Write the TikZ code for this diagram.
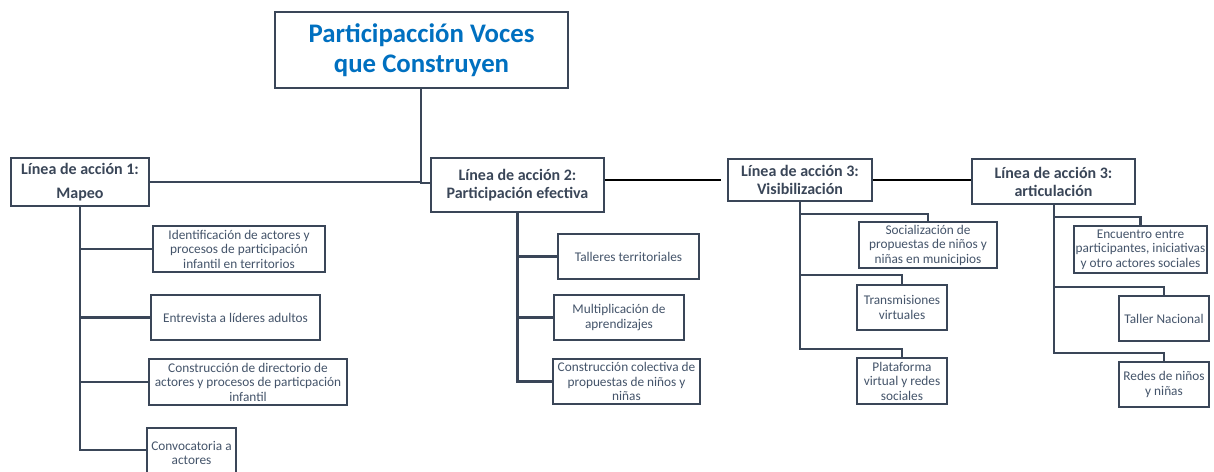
\documentclass[tikz,border=0pt]{standalone}
\usepackage{fontspec}
\setmainfont{Carlito}
\definecolor{edge}{HTML}{3A4658}
\definecolor{slate}{HTML}{44546A}
\definecolor{titleblue}{HTML}{0070C0}
\begin{document}
\begin{tikzpicture}[x=1pt,y=-1pt,
  box/.style={draw=edge, line width=2.8pt, fill=white, align=center, inner sep=0pt, text=slate},
  titlebox/.style={box, text=titleblue, font=\fontsize{26.8}{30}\selectfont\bfseries},
  lvl/.style={box, text=edge, font=\fontsize{16}{18}\selectfont\bfseries},
  leaf/.style={box, line width=2.6pt, font=\fontsize{13.3}{14.5}\selectfont},
  conn/.style={draw=edge, line width=2.8pt},
  thinconn/.style={draw=edge, line width=2.2pt},
  blk/.style={draw=black, line width=2.2pt}]
\useasboundingbox (0,0) rectangle (1214,471);

% title
\node[titlebox, minimum width=293, minimum height=76] (title) at (421.5,50) {Participacción Voces\\que Construyen};

% action lines
\node[lvl, minimum width=138, minimum height=48] (L1) at (80,182) {Línea de acción 1:\\[6pt]Mapeo};
\node[lvl, minimum width=173, minimum height=54] (L2) at (517.5,185) {Línea de acción 2:\\Participación efectiva};
\node[lvl, minimum width=144, minimum height=42] (L3) at (800,180) {Línea de acción 3:\\Visibilización};
\node[lvl, minimum width=163, minimum height=45] (L4) at (1053.5,181.5) {Línea de acción 3:\\articulación};

% line 1 children
\node[leaf, minimum width=172, minimum height=46] (a1) at (239,249) {Identificación de actores y\\procesos de participación\\infantil en territorios};
\node[leaf, minimum width=169, minimum height=45] (a2) at (235.5,317.5) {Entrevista a líderes adultos};
\node[leaf, minimum width=198, minimum height=46] (a3) at (248,382) {Construcción de directorio de\\actores y procesos de particpación\\infantil};
\node[leaf, minimum width=89, minimum height=50] (a4) at (191.5,453) {Convocatoria a\\actores};

% line 2 children
\node[leaf, minimum width=141, minimum height=45] (b1) at (628.5,256.5) {Talleres territoriales};
\node[leaf, minimum width=130, minimum height=45] (b2) at (619,317.5) {Multiplicación de\\aprendizajes};
\node[leaf, minimum width=147, minimum height=45] (b3) at (626.5,381.5) {Construcción colectiva de\\propuestas de niños y\\niñas};

% line 3 children
\node[leaf, minimum width=138, minimum height=46] (c1) at (928,245) {Socialización de\\propuestas de niños y\\niñas en municipios};
\node[leaf, minimum width=90, minimum height=45] (c2) at (902,307.5) {Transmisiones\\virtuales};
\node[leaf, minimum width=90, minimum height=46] (c3) at (902,381) {Plataforma\\virtual y redes\\sociales};

% line 4 children
\node[leaf, minimum width=133, minimum height=47] (d1) at (1140.5,249.5) {Encuentro entre\\participantes, iniciativas\\y otro actores sociales};
\node[leaf, minimum width=90, minimum height=45] (d2) at (1164,318.5) {Taller Nacional};
\node[leaf, minimum width=90, minimum height=45] (d3) at (1164,384.5) {Redes de niños\\y niñas};

% title to action lines
\coordinate (J) at (421,183);
\draw[conn] (title.south -| J) -- (J) -- (J -| L2.west);
\draw[thinconn] (L1.east) -- (L1.east -| J);
\draw[blk] (L2.east |- L3.west) -- ([xshift=-6pt]L3.west);
\draw[blk] (L3.east) -- (L3.east -| L4.west);

% line 1 tree
\coordinate (t1) at (80,450);
\draw[conn] (L1.south) -- (t1) -- (t1 -| a4.west);
\draw[conn] (L1.south |- a1.west) -- (a1.west);
\draw[conn] (L1.south |- a2.west) -- (a2.west);
\draw[conn] (L1.south |- a3.west) -- (a3.west);

% line 2 tree
\draw[conn] (L2.south) -- (L2.south |- b3.west) -- (b3.west);
\draw[conn] (L2.south |- b1.west) -- (b1.west);
\draw[conn] (L2.south |- b2.west) -- (b2.west);

% line 3 tree
\coordinate (v1) at (800,214);
\coordinate (v2) at (800,275);
\coordinate (v3) at (800,349);
\draw[conn] (L3.south) -- (v3) -| (c3.north);
\draw[conn] (v1) -| (c1.north);
\draw[conn] (v2) -| (c2.north);

% line 4 tree
\coordinate (w1) at (1054,217);
\coordinate (w2) at (1054,287);
\coordinate (w3) at (1054,353);
\draw[conn] (L4.south -| w1) -- (w3) -| (d3.north);
\draw[conn] (w1) -| (d1.north);
\draw[conn] (w2) -| (d2.north);
\end{tikzpicture}
\end{document}
